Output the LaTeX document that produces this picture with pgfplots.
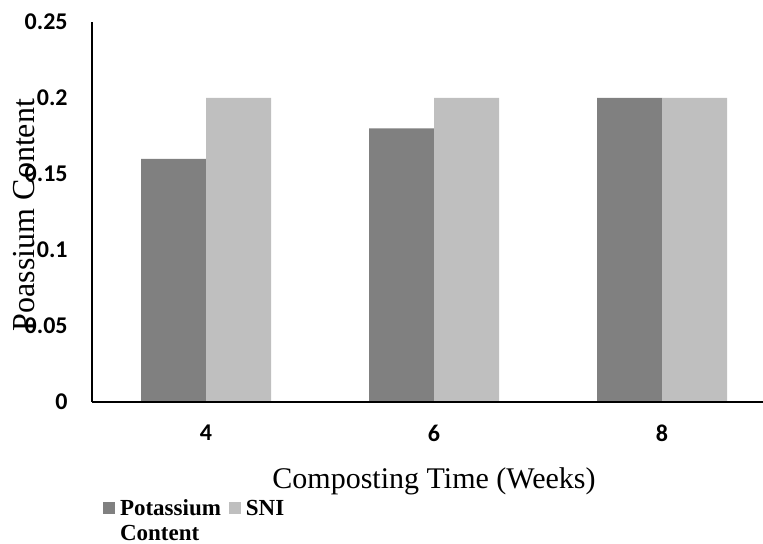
\documentclass[border=0pt]{standalone}
\usepackage{fontspec}
\setmainfont{Liberation Serif}
\newfontfamily\carlito{Carlito}
\usepackage{pgfplots}
\pgfplotsset{compat=1.18}
\definecolor{darkbar}{RGB}{128,128,128}
\definecolor{lightbar}{RGB}{191,191,191}
\begin{document}
\begin{tikzpicture}
\path[use as bounding box] (-46pt,-71pt) rectangle (335.5pt,201pt);
\begin{axis}[
  at={(0,0)}, anchor=south west,
  scale only axis, width=335.5pt, height=190pt,
  ybar=0pt, bar width=32.5pt,
  xmin=-0.5, xmax=2.443, ymin=0, ymax=0.25,
  axis x line=bottom, axis y line=left,
  axis line style={-, black, line width=0.6pt},
  axis on top,
  xtick={0,1,2}, xticklabels={4,6,8},
  ytick={0,0.05,0.1,0.15,0.2,0.25},
  yticklabels={0,0.05,0.1,0.15,0.2,0.25},
  major tick length=0pt,
  tick label style={font=\carlito\bfseries\fontsize{12}{14}\selectfont},
  xticklabel style={anchor=north, inner sep=0pt, yshift=-11.5pt},
  yticklabel style={anchor=east, inner sep=0pt, xshift=-12pt},
  xlabel={Composting Time (Weeks)},
  every axis x label/.style={at={(rel axis cs:0.5097,0)}, anchor=base, yshift=-43pt, font=\fontsize{15}{18}\selectfont},
  ylabel={Poassium Content},
  every axis y label/.style={at={(rel axis cs:0,0.5)}, xshift=-28.5pt, yshift=-1.5pt, rotate=90, anchor=base, font=\fontsize{16}{19}\selectfont},
  legend columns=2,
  legend style={at={(rel axis cs:0,0)}, anchor=north west, xshift=5.5pt, yshift=-47.75pt,
    draw=none, fill=none, inner sep=0pt, outer sep=0pt,
    column sep=2.5pt, /tikz/every even column/.append style={column sep=4pt},
    font=\bfseries\fontsize{11.5}{12.5}\selectfont,
    nodes={inner sep=0pt}, cells={anchor=base west}},
  legend image code/.code={\fill[#1] (0pt,0.5pt) rectangle (6pt,6.5pt);},
]
\addplot[fill=darkbar, draw=none] coordinates {(0,0.16) (1,0.18) (2,0.20)};
\addlegendentry{\begin{tabular}[t]{@{}l@{}}Potassium\\Content\end{tabular}}
\addplot[fill=lightbar, draw=none] coordinates {(0,0.20) (1,0.20) (2,0.20)};
\addlegendentry{SNI}
\end{axis}
\end{tikzpicture}
\end{document}
